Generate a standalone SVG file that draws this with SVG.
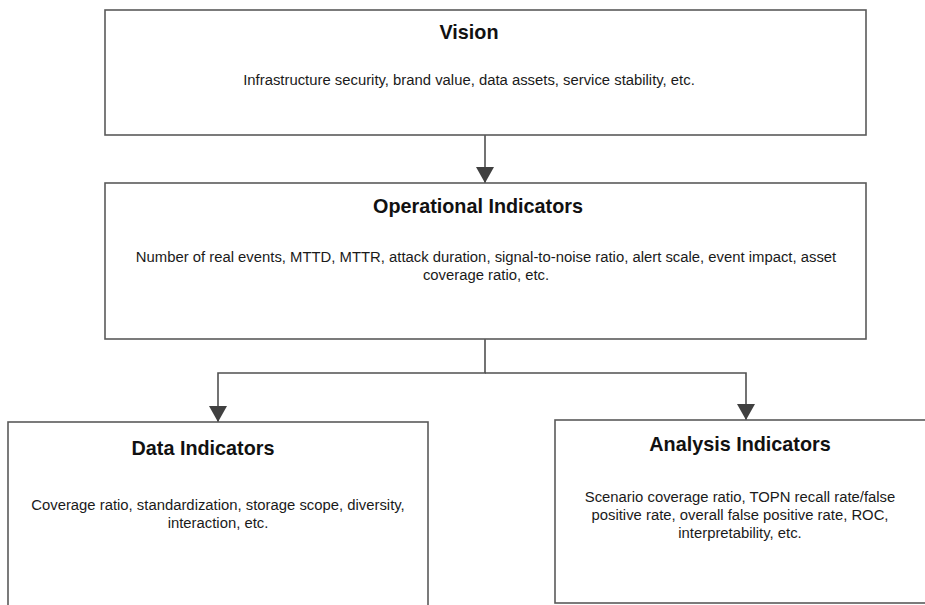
<svg xmlns="http://www.w3.org/2000/svg" width="925" height="605" viewBox="0 0 925 605">
  <defs>
    <marker id="arrow" markerWidth="17" markerHeight="18" refX="16" refY="9" orient="auto" markerUnits="userSpaceOnUse">
      <path d="M0,0 L16,9 L0,18 Z" fill="#404040"/>
    </marker>
    <style>
      .box { fill: #ffffff; stroke: #5a5a5a; stroke-width: 1.6; }
      .title { font-family: "Liberation Sans", Arial, sans-serif; font-size: 19.8px; font-weight: bold; fill: #111111; text-anchor: middle; }
      .body { font-family: "Liberation Sans", Arial, sans-serif; font-size: 14.85px; fill: #1a1a1a; text-anchor: middle; }
      .link { fill: none; stroke: #505050; stroke-width: 1.6; }
    </style>
  </defs>
  <rect width="925" height="605" fill="#ffffff"/>

  <g id="connectors">
    <path class="link" d="M485,135 L485,183" marker-end="url(#arrow)"/>
    <path class="link" d="M485,339 L485,373 L218,373 L218,422" marker-end="url(#arrow)"/>
    <path class="link" d="M485,373 L746,373 L746,420" marker-end="url(#arrow)"/>
  </g>

  <g id="vision">
    <rect class="box" x="105" y="10" width="761" height="125"/>
    <text class="title" x="469" y="39">Vision</text>
    <text class="body" x="469" y="85">Infrastructure security, brand value, data assets, service stability, etc.</text>
  </g>

  <g id="operational">
    <rect class="box" x="105" y="183" width="761" height="156"/>
    <text class="title" x="478" y="213">Operational Indicators</text>
    <text class="body" x="486" y="262">Number of real events, MTTD, MTTR, attack duration, signal-to-noise ratio, alert scale, event impact, asset</text>
    <text class="body" x="486" y="280">coverage ratio, etc.</text>
  </g>

  <g id="data">
    <rect class="box" x="8" y="422" width="420" height="200"/>
    <text class="title" x="203" y="455">Data Indicators</text>
    <text class="body" x="218" y="510">Coverage ratio, standardization, storage scope, diversity,</text>
    <text class="body" x="218" y="528">interaction, etc.</text>
  </g>

  <g id="analysis">
    <rect class="box" x="555" y="420" width="380" height="183"/>
    <text class="title" x="740" y="451">Analysis Indicators</text>
    <text class="body" x="740" y="502">Scenario coverage ratio, TOPN recall rate/false</text>
    <text class="body" x="740" y="520">positive rate, overall false positive rate, ROC,</text>
    <text class="body" x="740" y="538">interpretability, etc.</text>
  </g>
</svg>
